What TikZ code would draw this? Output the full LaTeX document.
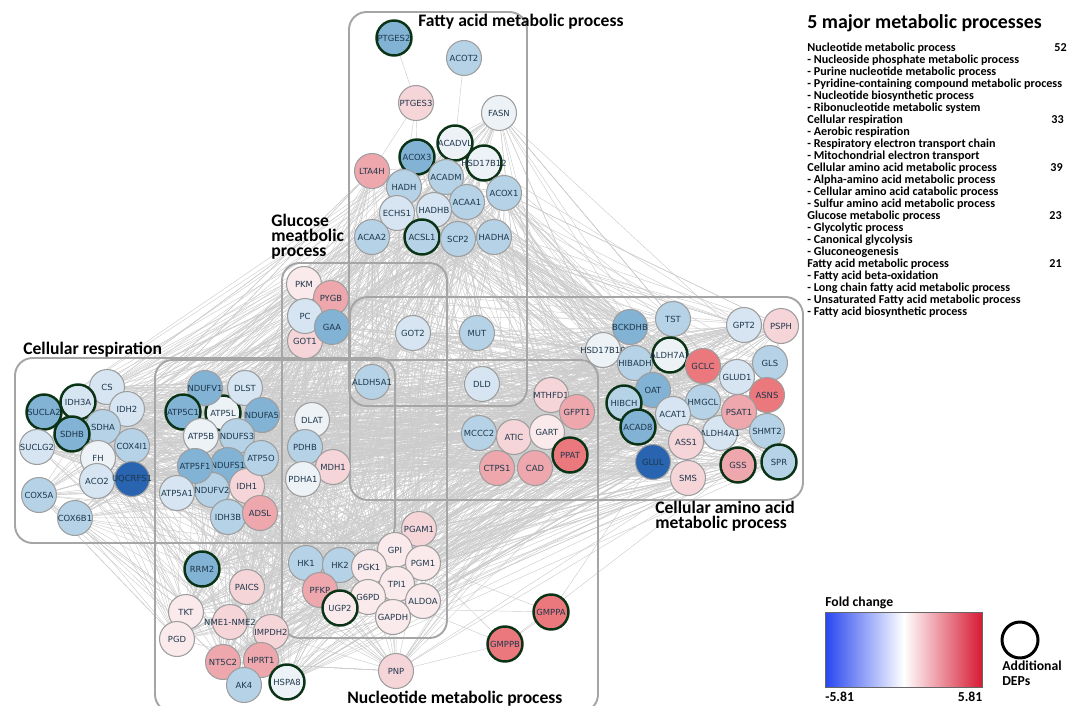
\documentclass[tikz,border=0pt]{standalone}
\usepackage{fontspec}
\setmainfont{Carlito}
\newfontfamily\genefont{DejaVu Sans}
\usetikzlibrary{positioning, backgrounds}
\definecolor{DownDark}{RGB}{40,100,175}
\definecolor{DownMid}{RGB}{130,178,212}
\definecolor{DownLight}{RGB}{182,210,231}
\definecolor{DownPale}{RGB}{214,229,241}
\definecolor{Neutral}{RGB}{237,242,247}
\definecolor{UpFaint}{RGB}{250,234,236}
\definecolor{UpPale}{RGB}{246,213,217}
\definecolor{UpMid}{RGB}{238,168,173}
\definecolor{UpStrong}{RGB}{234,120,125}
\definecolor{GeneText}{RGB}{30,55,75}
\definecolor{DepGreen}{RGB}{10,50,20}
\definecolor{FrameGray}{RGB}{165,165,165}
\definecolor{LinkGray}{RGB}{204,204,204}
\definecolor{LegBlue}{RGB}{40,70,240}
\definecolor{LegRed}{RGB}{215,25,50}

\begin{document}
\begin{tikzpicture}[x=0.02cm, y=-0.02cm,
  gene/.style={circle, draw=black!38, line width=0.6pt, fill=#1,
               minimum size=0.7cm, inner sep=0pt, text=GeneText,
               font=\genefont\fontsize{4.8}{5}\selectfont,
               execute at begin node={\hbox to 0pt\bgroup\hss},
               execute at end node={\hss\egroup}},
  dep/.style={draw=DepGreen, line width=1.4pt},
  procbox/.style={draw=FrameGray, line width=1.1pt, rounded corners=10pt},
  grouptitle/.style={font=\fontsize{10}{8.6}\selectfont\bfseries,
                     align=left, inner sep=0pt},
  listtext/.style={font=\fontsize{6.9}{7.5}\selectfont\bfseries,
                   anchor=west, inner sep=0pt},
  legtext/.style={font=\fontsize{7.8}{8.2}\selectfont\bfseries,
                  inner sep=0pt, align=left},
  link/.style={draw=LinkGray, line width=0.25pt},
]
\useasboundingbox (0,0) rectangle (1083,706);

% fatty acid metabolic process
\node[gene=DownMid, dep]     (PTGES2)   at (394,38)  {PTGES2};
\node[gene=DownLight]        (ACOT2)    at (464,58)  {ACOT2};
\node[gene=UpPale]           (PTGES3)   at (416,103) {PTGES3};
\node[gene=Neutral]          (FASN)     at (499,113) {FASN};
\node[gene=Neutral, dep]     (HSD17B12) at (484,163) {HSD17B12};
\node[gene=Neutral, dep]     (ACADVL)   at (455,143) {ACADVL};
\node[gene=UpMid]            (LTA4H)    at (372,171) {LTA4H};
\node[gene=DownMid, dep]     (ACOX3)    at (417,157) {ACOX3};
\node[gene=DownLight]        (ACADM)    at (446,177) {ACADM};
\node[gene=DownLight]        (HADH)     at (404,187) {HADH};
\node[gene=DownLight]        (ACOX1)    at (504,193) {ACOX1};
\node[gene=DownLight]        (ACAA1)    at (467,202) {ACAA1};
\node[gene=DownPale]         (HADHB)    at (434,210) {HADHB};
\node[gene=DownPale]         (ECHS1)    at (397,213) {ECHS1};
\node[gene=DownLight]        (ACAA2)    at (372,237) {ACAA2};
\node[gene=DownLight, dep]   (ACSL1)    at (422,237) {ACSL1};
\node[gene=DownLight]        (SCP2)     at (458,239) {SCP2};
\node[gene=DownLight]        (HADHA)    at (494,237) {HADHA};

% cellular respiration
\node[gene=DownPale]         (CS)       at (107,387) {CS};
\node[gene=DownPale]         (IDH2)     at (127,409) {IDH2};
\node[gene=DownMid, dep]     (SUCLA2)   at (44,412)  {SUCLA2};
\node[gene=DownPale, dep]    (IDH3A)    at (78,402)  {IDH3A};
\node[gene=DownLight]        (SDHA)     at (103,427) {SDHA};
\node[gene=DownMid, dep]     (SDHB)     at (72,434)  {SDHB};
\node[gene=DownPale]         (SUCLG2)   at (37,447)  {SUCLG2};
\node[gene=DownLight]        (COX4I1)   at (132,446) {COX4I1};
\node[gene=Neutral]          (FH)       at (98,458)  {FH};
\node[gene=DownPale]         (ACO2)     at (97,481)  {ACO2};
\node[gene=DownDark]         (UQCRFS1)  at (132,479) {UQCRFS1};
\node[gene=DownLight]        (COX5A)    at (39,495)  {COX5A};
\node[gene=DownLight]        (COX6B1)   at (75,518)  {COX6B1};

% glucose metabolic process
\node[gene=UpFaint]          (PKM)      at (304,284) {PKM};
\node[gene=UpMid]            (PYGB)     at (331,298) {PYGB};
\node[gene=UpPale]           (GOT1)     at (305,341) {GOT1};
\node[gene=DownPale]         (PC)       at (305,316) {PC};
\node[gene=DownMid]          (GAA)      at (332,327) {GAA};

% respiration and nucleotide overlap
\node[gene=DownLight]        (ALDH5A1)  at (372,382) {ALDH5A1};
\node[gene=Neutral, dep]     (ATP5L)    at (223,413) {ATP5L};
\node[gene=DownMid]          (NDUFV1)   at (205,388) {NDUFV1};
\node[gene=DownPale]         (DLST)     at (245,388) {DLST};
\node[gene=DownMid]          (NDUFA5)   at (262,415) {NDUFA5};
\node[gene=DownMid, dep]     (ATP5C1)   at (183,412) {ATP5C1};
\node[gene=Neutral]          (ATP5B)    at (201,436) {ATP5B};
\node[gene=DownLight]        (NDUFS3)   at (237,436) {NDUFS3};
\node[gene=Neutral]          (DLAT)     at (312,420) {DLAT};
\node[gene=DownLight]        (PDHB)     at (305,447) {PDHB};
\node[gene=DownMid]          (NDUFS1)   at (228,465) {NDUFS1};
\node[gene=DownLight]        (NDUFV2)   at (212,490) {NDUFV2};
\node[gene=DownMid]          (ATP5F1)   at (195,466) {ATP5F1};
\node[gene=DownPale]         (ATP5A1)   at (177,493) {ATP5A1};
\node[gene=DownLight]        (IDH3B)    at (228,517) {IDH3B};
\node[gene=UpPale]           (IDH1)     at (247,486) {IDH1};
\node[gene=DownLight]        (ATP5O)    at (261,458) {ATP5O};
\node[gene=UpMid]            (ADSL)     at (260,513) {ADSL};
\node[gene=UpPale]           (MDH1)     at (333,467) {MDH1};
\node[gene=Neutral]          (PDHA1)    at (303,479) {PDHA1};

% cellular amino acid metabolic process
\node[gene=DownPale]         (GOT2)     at (413,333) {GOT2};
\node[gene=DownLight]        (MUT)      at (477,333) {MUT};
\node[gene=DownPale]         (DLD)      at (482,384) {DLD};
\node[gene=UpPale]           (MTHFD1)   at (551,395) {MTHFD1};
\node[gene=UpMid]            (GFPT1)    at (577,412) {GFPT1};
\node[gene=DownLight]        (MCCC2)    at (479,433) {MCCC2};
\node[gene=UpPale]           (ATIC)     at (514,437) {ATIC};
\node[gene=UpFaint]          (GART)     at (547,432) {GART};
\node[gene=UpMid]            (CTPS1)    at (497,468) {CTPS1};
\node[gene=UpMid]            (CAD)      at (535,468) {CAD};
\node[gene=UpStrong, dep]    (PPAT)     at (570,455) {PPAT};
\node[gene=Neutral]          (HSD17B10) at (603,350) {HSD17B10};
\node[gene=DownMid]          (BCKDHB)   at (630,327) {BCKDHB};
\node[gene=DownLight]        (TST)      at (673,319) {TST};
\node[gene=DownLight]        (HIBADH)   at (635,363) {HIBADH};
\node[gene=Neutral, dep]     (ALDH7A1)  at (670,355) {ALDH7A1};
\node[gene=UpStrong]         (GCLC)     at (703,366) {GCLC};
\node[gene=DownPale]         (GPT2)     at (744,325) {GPT2};
\node[gene=UpPale]           (PSPH)     at (781,326) {PSPH};
\node[gene=DownPale]         (GLUD1)    at (737,377) {GLUD1};
\node[gene=DownLight]        (GLS)      at (770,363) {GLS};
\node[gene=UpStrong]         (ASNS)     at (767,395) {ASNS};
\node[gene=DownMid]          (OAT)      at (653,390) {OAT};
\node[gene=DownLight, dep]   (HIBCH)    at (624,403) {HIBCH};
\node[gene=DownLight]        (HMGCL)    at (703,402) {HMGCL};
\node[gene=DownPale]         (ACAT1)    at (673,414) {ACAT1};
\node[gene=DownMid, dep]     (ACAD8)    at (638,427) {ACAD8};
\node[gene=DownPale]         (ALDH4A1)  at (720,433) {ALDH4A1};
\node[gene=UpMid]            (PSAT1)    at (739,412) {PSAT1};
\node[gene=DownLight]        (SHMT2)    at (767,431) {SHMT2};
\node[gene=UpPale]           (ASS1)     at (686,442) {ASS1};
\node[gene=DownDark]         (GLUL)     at (653,462) {GLUL};
\node[gene=UpPale]           (SMS)      at (688,478) {SMS};
\node[gene=UpMid, dep]       (GSS)      at (738,465) {GSS};
\node[gene=DownLight, dep]   (SPR)      at (779,462) {SPR};

% nucleotide metabolic process
\node[gene=UpPale]           (PGAM1)    at (419,529) {PGAM1};
\node[gene=UpFaint]          (GPI)      at (395,550) {GPI};
\node[gene=UpFaint]          (PGM1)     at (423,563) {PGM1};
\node[gene=DownLight]        (HK1)      at (306,563) {HK1};
\node[gene=DownLight]        (HK2)      at (340,565) {HK2};
\node[gene=UpFaint]          (PGK1)     at (369,567) {PGK1};
\node[gene=UpFaint]          (TPI1)     at (397,584) {TPI1};
\node[gene=UpMid]            (PFKP)     at (320,590) {PFKP};
\node[gene=UpFaint]          (G6PD)     at (368,597) {G6PD};
\node[gene=UpFaint, dep]     (UGP2)     at (340,608) {UGP2};
\node[gene=UpFaint]          (ALDOA)    at (423,601) {ALDOA};
\node[gene=UpFaint]          (GAPDH)    at (393,617) {GAPDH};
\node[gene=DownMid, dep]     (RRM2)     at (202,569) {RRM2};
\node[gene=UpPale]           (PAICS)    at (247,587) {PAICS};
\node[gene=UpFaint]          (TKT)      at (186,612) {TKT};
\node[gene=UpFaint]          (PGD)      at (177,639) {PGD};
\node[gene=UpPale]           (NME)      at (230,622) {NME1-NME2};
\node[gene=UpPale]           (IMPDH2)   at (271,632) {IMPDH2};
\node[gene=UpMid]            (NT5C2)    at (223,662) {NT5C2};
\node[gene=UpMid]            (HPRT1)    at (261,660) {HPRT1};
\node[gene=DownLight]        (AK4)      at (244,685) {AK4};
\node[gene=Neutral, dep]     (HSPA8)    at (287,682) {HSPA8};
\node[gene=UpPale]           (PNP)      at (396,671) {PNP};
\node[gene=UpStrong, dep]    (GMPPA)    at (551,612) {GMPPA};
\node[gene=UpStrong, dep]    (GMPPB)    at (505,644) {GMPPB};

% group titles
\node[grouptitle, anchor=west]       (fattytitle)   at (418,22)  {Fatty acid metabolic process};
\node[grouptitle, anchor=north west] (glucosetitle) at (271,214) {Glucose\\meatbolic\\process};
\node[grouptitle, anchor=west]       (resptitle)    at (23,350)  {Cellular respiration};
\node[grouptitle, anchor=north west] (aminotitle)   at (655,501) {Cellular amino acid\\metabolic process};
\node[grouptitle, anchor=west]       (nucltitle)    at (347,699) {Nucleotide metabolic process};

% process list
\node[listtext, font=\fontsize{11.3}{12}\selectfont\bfseries] (majortitle) at (807,23) {5 major metabolic processes};
\foreach \txt [count=\k] in {Nucleotide metabolic process,
    - Nucleoside phosphate metabolic process,
    - Purine nucleotide metabolic process,
    - Pyridine-containing compound metabolic process,
    - Nucleotide biosynthetic process,
    - Ribonucleotide metabolic system,
    Cellular respiration,
    - Aerobic respiration,
    - Respiratory electron transport chain,
    - Mitochondrial electron transport,
    Cellular amino acid metabolic process,
    - Alpha-amino acid metabolic process,
    - Cellular amino acid catabolic process,
    - Sulfur amino acid metabolic process,
    Glucose metabolic process,
    - Glycolytic process,
    - Canonical glycolysis,
    - Gluconeogenesis,
    Fatty acid metabolic process,
    - Fatty acid beta-oxidation,
    - Long chain fatty acid metabolic process,
    - Unsaturated Fatty acid metabolic process,
    - Fatty acid biosynthetic process}
  \node[listtext] (item\k) at (807,{36+12*\k}) {\txt};
\node[listtext, anchor=east] (count1) at (1067,48)  {52};
\node[listtext, anchor=east] (count2) at (1064,120) {33};
\node[listtext, anchor=east] (count3) at (1063,168) {39};
\node[listtext, anchor=east] (count4) at (1062,216) {23};
\node[listtext, anchor=east] (count5) at (1062,264) {21};

% legend
\node[legtext, anchor=west] (fclabel) at (825,603) {Fold change};
\node[draw=black!60, line width=0.4pt, left color=LegBlue, right color=LegRed,
      middle color=white, minimum width=3.14cm, minimum height=1.5cm,
      inner sep=0pt, anchor=north west] (scale) at (825,612) {};
\node[legtext, anchor=north west] (fcmin) at ([yshift=-2pt]scale.south west) {-5.81};
\node[legtext, anchor=north east] (fcmax) at ([yshift=-2pt]scale.south east) {5.81};
\node[circle, draw=black, line width=1.7pt, minimum size=0.72cm] (depkey) at (1020,640) {};
\node[legtext, anchor=north west] (deplabel) at (1002,661) {Additional\\DEPs};

% interaction network and process frames
\pgfmathsetseed{20}
\foreach \n [count=\k] in {FASN, ACADVL, HSD17B12, ACOX3, LTA4H, HADH, ACADM, ACOX1,
    ACAA1, HADHB, ECHS1, ACAA2, ACSL1, SCP2, HADHA,
    CS, IDH3A, SUCLA2, IDH2, SDHA, SDHB, SUCLG2, COX4I1, FH, UQCRFS1, ACO2, COX5A, COX6B1,
    PKM, PYGB, PC, GAA, GOT1,
    ALDH5A1, NDUFV1, DLST, ATP5C1, ATP5L, NDUFA5, ATP5B, NDUFS3, DLAT, PDHB, ATP5O,
    ATP5F1, NDUFS1, MDH1, IDH1, PDHA1, ATP5A1, NDUFV2, IDH3B, ADSL,
    GOT2, MUT, DLD, MTHFD1, GFPT1, MCCC2, ATIC, GART, PPAT, CTPS1, CAD, BCKDHB, TST,
    HSD17B10, HIBADH, ALDH7A1, GCLC, GPT2, PSPH, GLS, GLUD1, ASNS, OAT, HIBCH, HMGCL,
    ACAT1, PSAT1, ACAD8, ALDH4A1, SHMT2, ASS1, GLUL, SMS, GSS, SPR,
    PGAM1, GPI, PGM1, HK1, HK2, PGK1, TPI1, PFKP, G6PD, UGP2, ALDOA, GAPDH,
    RRM2, PAICS, TKT, NME, IMPDH2, PGD, NT5C2, HPRT1, AK4, HSPA8, PNP}
  {\expandafter\xdef\csname nd\k\endcsname{\n}}
\begin{pgfonlayer}{background}
  \foreach \e in {1,...,1900}{
    \pgfmathrandominteger{\ia}{1}{111}
    \pgfmathrandominteger{\ib}{1}{111}
    \ifnum\ia=\ib\else
      \edef\na{\csname nd\ia\endcsname}
      \edef\nb{\csname nd\ib\endcsname}
      \draw[link] (\na) -- (\nb);
    \fi
  }
  \draw[link] (PTGES2) -- (PTGES3);
  \draw[link] (PTGES3) -- (LTA4H);
  \draw[link] (PTGES3) -- (HADH);
  \draw[link] (PTGES3) -- (ACOX3);
  \draw[link] (ACOT2) -- (ACADVL);
  \draw[link] (GMPPA) -- (GMPPB);
  \draw[link] (GMPPA) -- (UGP2);
  \draw[link] (GMPPA) -- (GLUL);
  \draw[link] (GMPPA) -- (PGM1);
  \draw[link] (GMPPB) -- (PNP);
  \draw[link] (GMPPB) -- (PGM1);
  \draw[link] (GMPPB) -- (HK1);
  \draw[link] (GMPPB) -- (GSS);
  \draw[procbox] (349,12)  rectangle (527,406);
  \draw[procbox] (282,263) rectangle (447,638);
  \draw[procbox] (350,297) rectangle (803,500);
  \draw[procbox] (15,358)  rectangle (395,543);
  \draw[procbox] (155,360) rectangle (598,712);
\end{pgfonlayer}
\end{tikzpicture}
\end{document}
